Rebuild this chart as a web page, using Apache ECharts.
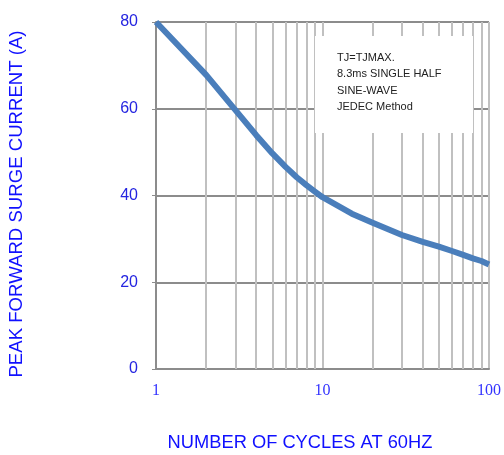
<!DOCTYPE html>
<html>
<head>
<meta charset="utf-8">
<script src="https://cdn.jsdelivr.net/npm/echarts@6/dist/echarts.min.js"></script>
<style>html,body{margin:0;padding:0;background:#fff;}#c{width:504px;height:455px;}</style>
</head>
<body>
<div id="c"></div>
<script>
// Data
const cycles = [1, 2, 3, 4, 5, 6, 7, 8, 9, 10, 15, 20, 30, 40, 50, 60, 70, 80, 90, 100];
const current = [80, 67.8, 59.7, 53.9, 49.7, 46.6, 44.2, 42.4, 40.9, 39.6, 35.8, 33.7, 30.9, 29.3, 28.2, 27.2, 26.3, 25.5, 24.9, 24.1];
const minorGridX = [2, 3, 4, 5, 6, 7, 8, 9, 20, 30, 40, 50, 60, 70, 80, 90];
const yTicks = [0, 20, 40, 60, 80];
const xTicks = [1, 10, 100];
const noteLines = ['TJ=TJMAX.', '8.3ms SINGLE HALF', 'SINE-WAVE', 'JEDEC Method'];

const chart = echarts.init(document.getElementById('c'), null, {renderer: 'canvas'});
const blueLabel = '#2424e0';
const option = {
  animation: false,
  grid: {left: 156, right: 12, top: 22, bottom: 86},
  xAxis: {
    type: 'log', logBase: 10, min: xTicks[0], max: xTicks[xTicks.length - 1],
    axisLine: {show: true, onZero: false, lineStyle: {color: '#8c8c8c', width: 2}},
    axisTick: {show: false},
    axisLabel: {color: '#3333ff', fontFamily: 'Liberation Serif', fontSize: 16, margin: 14},
    splitLine: {show: true, lineStyle: {color: '#c0c0c0', width: 2}}
  },
  yAxis: {
    type: 'value', min: yTicks[0], max: yTicks[yTicks.length - 1], interval: 20,
    axisLine: {show: true, lineStyle: {color: '#8c8c8c', width: 2}},
    axisTick: {show: true, length: 4, lineStyle: {color: '#8c8c8c', width: 1}},
    axisLabel: {color: blueLabel, fontFamily: 'Liberation Sans', fontSize: 16, margin: 18},
    splitLine: {show: true, lineStyle: {color: '#8c8c8c', width: 2}}
  },
  series: [
    {
      type: 'line', data: [], silent: true,
      markLine: {
        silent: true, symbol: 'none', label: {show: false},
        lineStyle: {color: '#c0c0c0', width: 2, type: 'solid'},
        data: minorGridX.map(v => ({xAxis: v}))
      },
      z: 1
    },
    {
      type: 'line',
      data: cycles.map((c, i) => [c, current[i]]),
      smooth: false, showSymbol: false,
      lineStyle: {color: '#4a7ebb', width: 6, join: 'round', cap: 'butt'},
      z: 5
    }
  ],
  graphic: [
    {type: 'rect', z: 100, shape: {x: 315, y: 36, width: 158, height: 97}, style: {fill: '#ffffff'}},
    {type: 'text', z: 101, left: 337, top: 50,
      style: {text: noteLines.join('\n'), fill: '#222222', font: '11px "Liberation Sans"', lineHeight: 16.3}},
    {type: 'text', z: 101, x: 17, y: 204, rotation: Math.PI / 2,
      style: {text: 'PEAK FORWARD SURGE CURRENT (A)', fill: '#1010ff', font: '18.6px "Liberation Sans"', align: 'center', verticalAlign: 'middle'}},
    {type: 'text', z: 101, x: 300, y: 443,
      style: {text: 'NUMBER OF CYCLES AT 60HZ', fill: '#1010ff', font: '18.3px "Liberation Sans"', align: 'center', verticalAlign: 'middle'}}
  ]
};
chart.setOption(option);
</script>
</body>
</html>
